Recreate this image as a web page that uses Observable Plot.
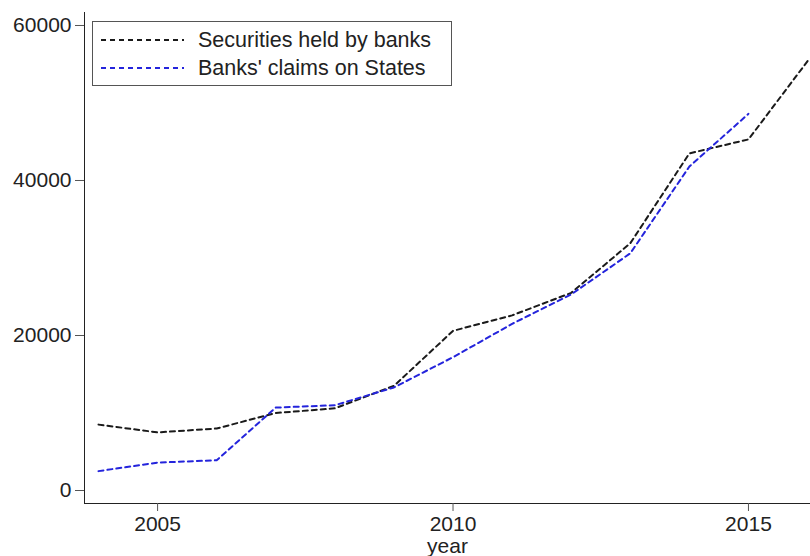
<!DOCTYPE html>
<html>
<head>
<meta charset="utf-8">
<script src="https://cdn.jsdelivr.net/npm/d3@7"></script>
<script src="https://cdn.jsdelivr.net/npm/@observablehq/plot@0.6"></script>
<style>
  html, body { margin: 0; padding: 0; background: #fff; }
  #wrap { position: relative; width: 810px; height: 556px; overflow: hidden; }
  #legend { position: absolute; left: 92px; top: 21px; width: 358px; height: 63px;
    border: 1.5px solid #555; background: #fff; box-sizing: content-box;
    font-family: "Liberation Sans", Arial, sans-serif; font-size: 21.5px; color: #222; }
  .row { position: absolute; left: 0; height: 26px; display: flex; align-items: center; }
  .row svg { margin-left: 8px; margin-right: 14px; }
  svg [aria-label$="tick"] path, svg [aria-label$="tick"] { stroke: #555; }
</style>
</head>
<body>
<div id="wrap"></div>
<script>
const years = [2004, 2005, 2006, 2007, 2008, 2009, 2010, 2011, 2012, 2013, 2014, 2015, 2016];
const securities = [8500, 7500, 8000, 10000, 10600, 13500, 20600, 22600, 25500, 31900, 43500, 45300, 55400];
const claimsYears = [2004, 2005, 2006, 2007, 2008, 2009, 2010, 2011, 2012, 2013, 2014, 2015];
const claims = [2500, 3600, 3900, 10700, 11000, 13300, 17200, 21500, 25300, 30600, 41800, 48600];
const seriesNames = ["Securities held by banks", "Banks' claims on States"];
const seriesColors = ["#1a1a1a", "#2424dc"];
const yTicks = [0, 20000, 40000, 60000];
const xTicks = [2005, 2010, 2015];

const data = [
  ...years.map((y, i) => ({year: y, value: securities[i], series: seriesNames[0]})),
  ...claimsYears.map((y, i) => ({year: y, value: claims[i], series: seriesNames[1]}))
];

const chart = Plot.plot({
  width: 810,
  height: 556,
  marginLeft: 84,
  marginRight: 0,
  marginTop: 12,
  marginBottom: 53,
  style: {fontFamily: "'Liberation Sans', Arial, sans-serif", fontSize: "21px", color: "#222", background: "#fff"},
  x: {domain: [2003.763, 2016.05], ticks: xTicks, tickFormat: d3.format("d"), tickSize: 8, tickPadding: 5,
      label: "year", labelArrow: "none", labelAnchor: "center", labelOffset: 49, line: true},
  y: {domain: [-1677, 61677], ticks: yTicks, tickFormat: d3.format("d"), tickSize: 9, tickPadding: 4,
      label: null, line: true},
  color: {domain: seriesNames, range: seriesColors},
  marks: [
    Plot.line(data, {x: "year", y: "value", z: "series", stroke: "series",
      strokeWidth: 2, strokeDasharray: "5,4"})
  ]
});
document.getElementById("wrap").appendChild(chart);

const legend = document.createElement("div");
legend.id = "legend";
seriesNames.forEach((name, i) => {
  const row = document.createElement("div");
  row.className = "row";
  row.style.top = (5 + i * 28) + "px";
  row.innerHTML = `<svg width="83" height="10"><line x1="0" x2="83" y1="5" y2="5" stroke="${seriesColors[i]}" stroke-width="2" stroke-dasharray="5,4"/></svg><span>${name}</span>`;
  legend.appendChild(row);
});
document.getElementById("wrap").appendChild(legend);
</script>
</body>
</html>
